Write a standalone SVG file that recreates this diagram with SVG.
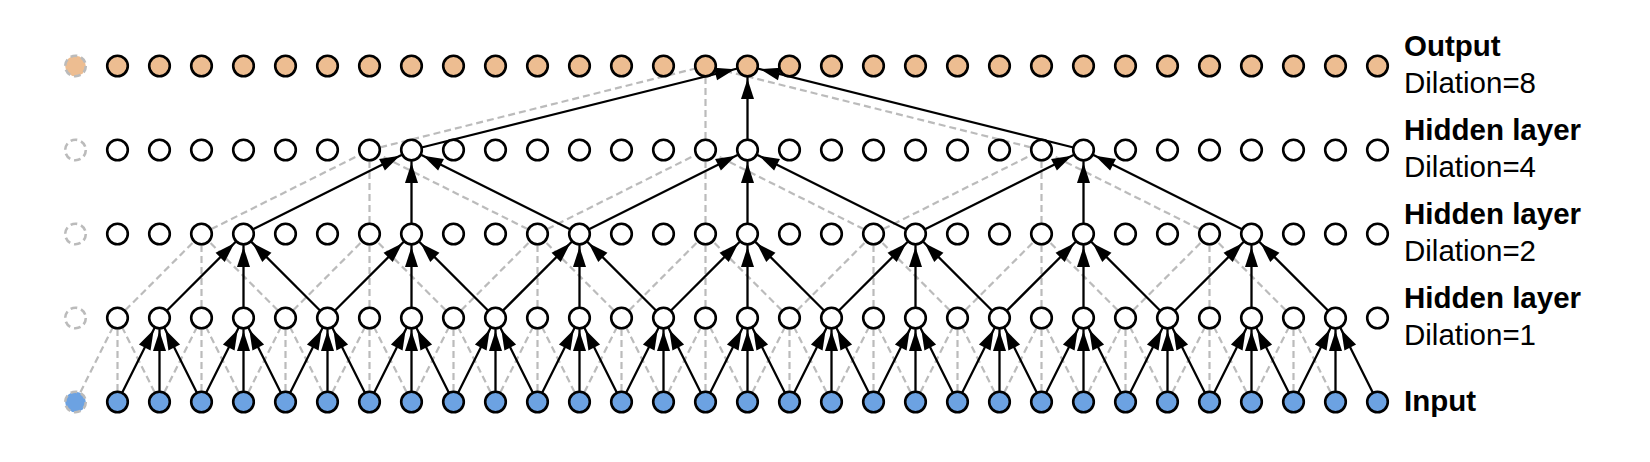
<svg xmlns="http://www.w3.org/2000/svg" width="1650" height="462" viewBox="0 0 1650 462">
<style>
.bg{fill:#ffffff}
.n circle{stroke:#000;stroke-width:2.6}
.out circle{fill:#EDBD91}
.hid circle{fill:#ffffff}
.inp circle{fill:#6CA2E2}
.ghost circle{stroke:#BBBBBB;stroke-width:2.6;stroke-dasharray:6.8 4}
.ghost.hid circle{fill:none}
.dash line{stroke:#BBBBBB;stroke-width:2.2;stroke-dasharray:7 4;fill:none}
.solid line{stroke:#000;stroke-width:2.3;marker-end:url(#ah)}
.lb{font-family:"Liberation Sans",Arial,Helvetica,sans-serif;font-size:29.5px;fill:#000}
.b{font-weight:bold}
</style>
<defs>
<marker id="ah" markerUnits="userSpaceOnUse" markerWidth="20" markerHeight="13" refX="33" refY="6.5" orient="auto" overflow="visible">
<path d="M0,0 L20,6.5 L0,13 z" fill="#000"/>
</marker>
</defs>
<rect class="bg" x="0" y="0" width="1650" height="462"/>
<g id="connectors">
<g class="dash">
<line x1="369.5" y1="150" x2="705.5" y2="66"/>
<line x1="705.5" y1="150" x2="705.5" y2="66"/>
<line x1="1041.5" y1="150" x2="705.5" y2="66"/>
<line x1="201.5" y1="234" x2="369.5" y2="150"/>
<line x1="369.5" y1="234" x2="369.5" y2="150"/>
<line x1="537.5" y1="234" x2="369.5" y2="150"/>
<line x1="537.5" y1="234" x2="705.5" y2="150"/>
<line x1="705.5" y1="234" x2="705.5" y2="150"/>
<line x1="873.5" y1="234" x2="705.5" y2="150"/>
<line x1="873.5" y1="234" x2="1041.5" y2="150"/>
<line x1="1041.5" y1="234" x2="1041.5" y2="150"/>
<line x1="1209.5" y1="234" x2="1041.5" y2="150"/>
<line x1="117.5" y1="318" x2="201.5" y2="234"/>
<line x1="201.5" y1="318" x2="201.5" y2="234"/>
<line x1="285.5" y1="318" x2="201.5" y2="234"/>
<line x1="285.5" y1="318" x2="369.5" y2="234"/>
<line x1="369.5" y1="318" x2="369.5" y2="234"/>
<line x1="453.5" y1="318" x2="369.5" y2="234"/>
<line x1="453.5" y1="318" x2="537.5" y2="234"/>
<line x1="537.5" y1="318" x2="537.5" y2="234"/>
<line x1="621.5" y1="318" x2="537.5" y2="234"/>
<line x1="621.5" y1="318" x2="705.5" y2="234"/>
<line x1="705.5" y1="318" x2="705.5" y2="234"/>
<line x1="789.5" y1="318" x2="705.5" y2="234"/>
<line x1="789.5" y1="318" x2="873.5" y2="234"/>
<line x1="873.5" y1="318" x2="873.5" y2="234"/>
<line x1="957.5" y1="318" x2="873.5" y2="234"/>
<line x1="957.5" y1="318" x2="1041.5" y2="234"/>
<line x1="1041.5" y1="318" x2="1041.5" y2="234"/>
<line x1="1125.5" y1="318" x2="1041.5" y2="234"/>
<line x1="1125.5" y1="318" x2="1209.5" y2="234"/>
<line x1="1209.5" y1="318" x2="1209.5" y2="234"/>
<line x1="1293.5" y1="318" x2="1209.5" y2="234"/>
<line x1="75.5" y1="402" x2="117.5" y2="318"/>
<line x1="117.5" y1="402" x2="117.5" y2="318"/>
<line x1="159.5" y1="402" x2="117.5" y2="318"/>
<line x1="159.5" y1="402" x2="201.5" y2="318"/>
<line x1="201.5" y1="402" x2="201.5" y2="318"/>
<line x1="243.5" y1="402" x2="201.5" y2="318"/>
<line x1="243.5" y1="402" x2="285.5" y2="318"/>
<line x1="285.5" y1="402" x2="285.5" y2="318"/>
<line x1="327.5" y1="402" x2="285.5" y2="318"/>
<line x1="327.5" y1="402" x2="369.5" y2="318"/>
<line x1="369.5" y1="402" x2="369.5" y2="318"/>
<line x1="411.5" y1="402" x2="369.5" y2="318"/>
<line x1="411.5" y1="402" x2="453.5" y2="318"/>
<line x1="453.5" y1="402" x2="453.5" y2="318"/>
<line x1="495.5" y1="402" x2="453.5" y2="318"/>
<line x1="495.5" y1="402" x2="537.5" y2="318"/>
<line x1="537.5" y1="402" x2="537.5" y2="318"/>
<line x1="579.5" y1="402" x2="537.5" y2="318"/>
<line x1="579.5" y1="402" x2="621.5" y2="318"/>
<line x1="621.5" y1="402" x2="621.5" y2="318"/>
<line x1="663.5" y1="402" x2="621.5" y2="318"/>
<line x1="663.5" y1="402" x2="705.5" y2="318"/>
<line x1="705.5" y1="402" x2="705.5" y2="318"/>
<line x1="747.5" y1="402" x2="705.5" y2="318"/>
<line x1="747.5" y1="402" x2="789.5" y2="318"/>
<line x1="789.5" y1="402" x2="789.5" y2="318"/>
<line x1="831.5" y1="402" x2="789.5" y2="318"/>
<line x1="831.5" y1="402" x2="873.5" y2="318"/>
<line x1="873.5" y1="402" x2="873.5" y2="318"/>
<line x1="915.5" y1="402" x2="873.5" y2="318"/>
<line x1="915.5" y1="402" x2="957.5" y2="318"/>
<line x1="957.5" y1="402" x2="957.5" y2="318"/>
<line x1="999.5" y1="402" x2="957.5" y2="318"/>
<line x1="999.5" y1="402" x2="1041.5" y2="318"/>
<line x1="1041.5" y1="402" x2="1041.5" y2="318"/>
<line x1="1083.5" y1="402" x2="1041.5" y2="318"/>
<line x1="1083.5" y1="402" x2="1125.5" y2="318"/>
<line x1="1125.5" y1="402" x2="1125.5" y2="318"/>
<line x1="1167.5" y1="402" x2="1125.5" y2="318"/>
<line x1="1167.5" y1="402" x2="1209.5" y2="318"/>
<line x1="1209.5" y1="402" x2="1209.5" y2="318"/>
<line x1="1251.5" y1="402" x2="1209.5" y2="318"/>
<line x1="1251.5" y1="402" x2="1293.5" y2="318"/>
<line x1="1293.5" y1="402" x2="1293.5" y2="318"/>
<line x1="1335.5" y1="402" x2="1293.5" y2="318"/>
</g>
<g class="solid">
<line x1="411.5" y1="150" x2="747.5" y2="66"/>
<line x1="747.5" y1="150" x2="747.5" y2="66"/>
<line x1="1083.5" y1="150" x2="747.5" y2="66"/>
<line x1="243.5" y1="234" x2="411.5" y2="150"/>
<line x1="411.5" y1="234" x2="411.5" y2="150"/>
<line x1="579.5" y1="234" x2="411.5" y2="150"/>
<line x1="579.5" y1="234" x2="747.5" y2="150"/>
<line x1="747.5" y1="234" x2="747.5" y2="150"/>
<line x1="915.5" y1="234" x2="747.5" y2="150"/>
<line x1="915.5" y1="234" x2="1083.5" y2="150"/>
<line x1="1083.5" y1="234" x2="1083.5" y2="150"/>
<line x1="1251.5" y1="234" x2="1083.5" y2="150"/>
<line x1="159.5" y1="318" x2="243.5" y2="234"/>
<line x1="243.5" y1="318" x2="243.5" y2="234"/>
<line x1="327.5" y1="318" x2="243.5" y2="234"/>
<line x1="327.5" y1="318" x2="411.5" y2="234"/>
<line x1="411.5" y1="318" x2="411.5" y2="234"/>
<line x1="495.5" y1="318" x2="411.5" y2="234"/>
<line x1="495.5" y1="318" x2="579.5" y2="234"/>
<line x1="579.5" y1="318" x2="579.5" y2="234"/>
<line x1="663.5" y1="318" x2="579.5" y2="234"/>
<line x1="663.5" y1="318" x2="747.5" y2="234"/>
<line x1="747.5" y1="318" x2="747.5" y2="234"/>
<line x1="831.5" y1="318" x2="747.5" y2="234"/>
<line x1="831.5" y1="318" x2="915.5" y2="234"/>
<line x1="915.5" y1="318" x2="915.5" y2="234"/>
<line x1="999.5" y1="318" x2="915.5" y2="234"/>
<line x1="999.5" y1="318" x2="1083.5" y2="234"/>
<line x1="1083.5" y1="318" x2="1083.5" y2="234"/>
<line x1="1167.5" y1="318" x2="1083.5" y2="234"/>
<line x1="1167.5" y1="318" x2="1251.5" y2="234"/>
<line x1="1251.5" y1="318" x2="1251.5" y2="234"/>
<line x1="1335.5" y1="318" x2="1251.5" y2="234"/>
<line x1="117.5" y1="402" x2="159.5" y2="318"/>
<line x1="159.5" y1="402" x2="159.5" y2="318"/>
<line x1="201.5" y1="402" x2="159.5" y2="318"/>
<line x1="201.5" y1="402" x2="243.5" y2="318"/>
<line x1="243.5" y1="402" x2="243.5" y2="318"/>
<line x1="285.5" y1="402" x2="243.5" y2="318"/>
<line x1="285.5" y1="402" x2="327.5" y2="318"/>
<line x1="327.5" y1="402" x2="327.5" y2="318"/>
<line x1="369.5" y1="402" x2="327.5" y2="318"/>
<line x1="369.5" y1="402" x2="411.5" y2="318"/>
<line x1="411.5" y1="402" x2="411.5" y2="318"/>
<line x1="453.5" y1="402" x2="411.5" y2="318"/>
<line x1="453.5" y1="402" x2="495.5" y2="318"/>
<line x1="495.5" y1="402" x2="495.5" y2="318"/>
<line x1="537.5" y1="402" x2="495.5" y2="318"/>
<line x1="537.5" y1="402" x2="579.5" y2="318"/>
<line x1="579.5" y1="402" x2="579.5" y2="318"/>
<line x1="621.5" y1="402" x2="579.5" y2="318"/>
<line x1="621.5" y1="402" x2="663.5" y2="318"/>
<line x1="663.5" y1="402" x2="663.5" y2="318"/>
<line x1="705.5" y1="402" x2="663.5" y2="318"/>
<line x1="705.5" y1="402" x2="747.5" y2="318"/>
<line x1="747.5" y1="402" x2="747.5" y2="318"/>
<line x1="789.5" y1="402" x2="747.5" y2="318"/>
<line x1="789.5" y1="402" x2="831.5" y2="318"/>
<line x1="831.5" y1="402" x2="831.5" y2="318"/>
<line x1="873.5" y1="402" x2="831.5" y2="318"/>
<line x1="873.5" y1="402" x2="915.5" y2="318"/>
<line x1="915.5" y1="402" x2="915.5" y2="318"/>
<line x1="957.5" y1="402" x2="915.5" y2="318"/>
<line x1="957.5" y1="402" x2="999.5" y2="318"/>
<line x1="999.5" y1="402" x2="999.5" y2="318"/>
<line x1="1041.5" y1="402" x2="999.5" y2="318"/>
<line x1="1041.5" y1="402" x2="1083.5" y2="318"/>
<line x1="1083.5" y1="402" x2="1083.5" y2="318"/>
<line x1="1125.5" y1="402" x2="1083.5" y2="318"/>
<line x1="1125.5" y1="402" x2="1167.5" y2="318"/>
<line x1="1167.5" y1="402" x2="1167.5" y2="318"/>
<line x1="1209.5" y1="402" x2="1167.5" y2="318"/>
<line x1="1209.5" y1="402" x2="1251.5" y2="318"/>
<line x1="1251.5" y1="402" x2="1251.5" y2="318"/>
<line x1="1293.5" y1="402" x2="1251.5" y2="318"/>
<line x1="1293.5" y1="402" x2="1335.5" y2="318"/>
<line x1="1335.5" y1="402" x2="1335.5" y2="318"/>
<line x1="1377.5" y1="402" x2="1335.5" y2="318"/>
</g>
</g>
<g id="output-layer">
<g id="out-ghost" class="n out ghost"><circle cx="75.5" cy="66" r="10.3"/></g>
<g id="out-0" class="n out"><circle cx="117.5" cy="66" r="10.3"/></g>
<g id="out-1" class="n out"><circle cx="159.5" cy="66" r="10.3"/></g>
<g id="out-2" class="n out"><circle cx="201.5" cy="66" r="10.3"/></g>
<g id="out-3" class="n out"><circle cx="243.5" cy="66" r="10.3"/></g>
<g id="out-4" class="n out"><circle cx="285.5" cy="66" r="10.3"/></g>
<g id="out-5" class="n out"><circle cx="327.5" cy="66" r="10.3"/></g>
<g id="out-6" class="n out"><circle cx="369.5" cy="66" r="10.3"/></g>
<g id="out-7" class="n out"><circle cx="411.5" cy="66" r="10.3"/></g>
<g id="out-8" class="n out"><circle cx="453.5" cy="66" r="10.3"/></g>
<g id="out-9" class="n out"><circle cx="495.5" cy="66" r="10.3"/></g>
<g id="out-10" class="n out"><circle cx="537.5" cy="66" r="10.3"/></g>
<g id="out-11" class="n out"><circle cx="579.5" cy="66" r="10.3"/></g>
<g id="out-12" class="n out"><circle cx="621.5" cy="66" r="10.3"/></g>
<g id="out-13" class="n out"><circle cx="663.5" cy="66" r="10.3"/></g>
<g id="out-14" class="n out"><circle cx="705.5" cy="66" r="10.3"/></g>
<g id="out-15" class="n out"><circle cx="747.5" cy="66" r="10.3"/></g>
<g id="out-16" class="n out"><circle cx="789.5" cy="66" r="10.3"/></g>
<g id="out-17" class="n out"><circle cx="831.5" cy="66" r="10.3"/></g>
<g id="out-18" class="n out"><circle cx="873.5" cy="66" r="10.3"/></g>
<g id="out-19" class="n out"><circle cx="915.5" cy="66" r="10.3"/></g>
<g id="out-20" class="n out"><circle cx="957.5" cy="66" r="10.3"/></g>
<g id="out-21" class="n out"><circle cx="999.5" cy="66" r="10.3"/></g>
<g id="out-22" class="n out"><circle cx="1041.5" cy="66" r="10.3"/></g>
<g id="out-23" class="n out"><circle cx="1083.5" cy="66" r="10.3"/></g>
<g id="out-24" class="n out"><circle cx="1125.5" cy="66" r="10.3"/></g>
<g id="out-25" class="n out"><circle cx="1167.5" cy="66" r="10.3"/></g>
<g id="out-26" class="n out"><circle cx="1209.5" cy="66" r="10.3"/></g>
<g id="out-27" class="n out"><circle cx="1251.5" cy="66" r="10.3"/></g>
<g id="out-28" class="n out"><circle cx="1293.5" cy="66" r="10.3"/></g>
<g id="out-29" class="n out"><circle cx="1335.5" cy="66" r="10.3"/></g>
<g id="out-30" class="n out"><circle cx="1377.5" cy="66" r="10.3"/></g>
</g>
<g id="hidden4-layer">
<g id="h4-ghost" class="n hid ghost"><circle cx="75.5" cy="150" r="10.3"/></g>
<g id="h4-0" class="n hid"><circle cx="117.5" cy="150" r="10.3"/></g>
<g id="h4-1" class="n hid"><circle cx="159.5" cy="150" r="10.3"/></g>
<g id="h4-2" class="n hid"><circle cx="201.5" cy="150" r="10.3"/></g>
<g id="h4-3" class="n hid"><circle cx="243.5" cy="150" r="10.3"/></g>
<g id="h4-4" class="n hid"><circle cx="285.5" cy="150" r="10.3"/></g>
<g id="h4-5" class="n hid"><circle cx="327.5" cy="150" r="10.3"/></g>
<g id="h4-6" class="n hid"><circle cx="369.5" cy="150" r="10.3"/></g>
<g id="h4-7" class="n hid"><circle cx="411.5" cy="150" r="10.3"/></g>
<g id="h4-8" class="n hid"><circle cx="453.5" cy="150" r="10.3"/></g>
<g id="h4-9" class="n hid"><circle cx="495.5" cy="150" r="10.3"/></g>
<g id="h4-10" class="n hid"><circle cx="537.5" cy="150" r="10.3"/></g>
<g id="h4-11" class="n hid"><circle cx="579.5" cy="150" r="10.3"/></g>
<g id="h4-12" class="n hid"><circle cx="621.5" cy="150" r="10.3"/></g>
<g id="h4-13" class="n hid"><circle cx="663.5" cy="150" r="10.3"/></g>
<g id="h4-14" class="n hid"><circle cx="705.5" cy="150" r="10.3"/></g>
<g id="h4-15" class="n hid"><circle cx="747.5" cy="150" r="10.3"/></g>
<g id="h4-16" class="n hid"><circle cx="789.5" cy="150" r="10.3"/></g>
<g id="h4-17" class="n hid"><circle cx="831.5" cy="150" r="10.3"/></g>
<g id="h4-18" class="n hid"><circle cx="873.5" cy="150" r="10.3"/></g>
<g id="h4-19" class="n hid"><circle cx="915.5" cy="150" r="10.3"/></g>
<g id="h4-20" class="n hid"><circle cx="957.5" cy="150" r="10.3"/></g>
<g id="h4-21" class="n hid"><circle cx="999.5" cy="150" r="10.3"/></g>
<g id="h4-22" class="n hid"><circle cx="1041.5" cy="150" r="10.3"/></g>
<g id="h4-23" class="n hid"><circle cx="1083.5" cy="150" r="10.3"/></g>
<g id="h4-24" class="n hid"><circle cx="1125.5" cy="150" r="10.3"/></g>
<g id="h4-25" class="n hid"><circle cx="1167.5" cy="150" r="10.3"/></g>
<g id="h4-26" class="n hid"><circle cx="1209.5" cy="150" r="10.3"/></g>
<g id="h4-27" class="n hid"><circle cx="1251.5" cy="150" r="10.3"/></g>
<g id="h4-28" class="n hid"><circle cx="1293.5" cy="150" r="10.3"/></g>
<g id="h4-29" class="n hid"><circle cx="1335.5" cy="150" r="10.3"/></g>
<g id="h4-30" class="n hid"><circle cx="1377.5" cy="150" r="10.3"/></g>
</g>
<g id="hidden2-layer">
<g id="h2-ghost" class="n hid ghost"><circle cx="75.5" cy="234" r="10.3"/></g>
<g id="h2-0" class="n hid"><circle cx="117.5" cy="234" r="10.3"/></g>
<g id="h2-1" class="n hid"><circle cx="159.5" cy="234" r="10.3"/></g>
<g id="h2-2" class="n hid"><circle cx="201.5" cy="234" r="10.3"/></g>
<g id="h2-3" class="n hid"><circle cx="243.5" cy="234" r="10.3"/></g>
<g id="h2-4" class="n hid"><circle cx="285.5" cy="234" r="10.3"/></g>
<g id="h2-5" class="n hid"><circle cx="327.5" cy="234" r="10.3"/></g>
<g id="h2-6" class="n hid"><circle cx="369.5" cy="234" r="10.3"/></g>
<g id="h2-7" class="n hid"><circle cx="411.5" cy="234" r="10.3"/></g>
<g id="h2-8" class="n hid"><circle cx="453.5" cy="234" r="10.3"/></g>
<g id="h2-9" class="n hid"><circle cx="495.5" cy="234" r="10.3"/></g>
<g id="h2-10" class="n hid"><circle cx="537.5" cy="234" r="10.3"/></g>
<g id="h2-11" class="n hid"><circle cx="579.5" cy="234" r="10.3"/></g>
<g id="h2-12" class="n hid"><circle cx="621.5" cy="234" r="10.3"/></g>
<g id="h2-13" class="n hid"><circle cx="663.5" cy="234" r="10.3"/></g>
<g id="h2-14" class="n hid"><circle cx="705.5" cy="234" r="10.3"/></g>
<g id="h2-15" class="n hid"><circle cx="747.5" cy="234" r="10.3"/></g>
<g id="h2-16" class="n hid"><circle cx="789.5" cy="234" r="10.3"/></g>
<g id="h2-17" class="n hid"><circle cx="831.5" cy="234" r="10.3"/></g>
<g id="h2-18" class="n hid"><circle cx="873.5" cy="234" r="10.3"/></g>
<g id="h2-19" class="n hid"><circle cx="915.5" cy="234" r="10.3"/></g>
<g id="h2-20" class="n hid"><circle cx="957.5" cy="234" r="10.3"/></g>
<g id="h2-21" class="n hid"><circle cx="999.5" cy="234" r="10.3"/></g>
<g id="h2-22" class="n hid"><circle cx="1041.5" cy="234" r="10.3"/></g>
<g id="h2-23" class="n hid"><circle cx="1083.5" cy="234" r="10.3"/></g>
<g id="h2-24" class="n hid"><circle cx="1125.5" cy="234" r="10.3"/></g>
<g id="h2-25" class="n hid"><circle cx="1167.5" cy="234" r="10.3"/></g>
<g id="h2-26" class="n hid"><circle cx="1209.5" cy="234" r="10.3"/></g>
<g id="h2-27" class="n hid"><circle cx="1251.5" cy="234" r="10.3"/></g>
<g id="h2-28" class="n hid"><circle cx="1293.5" cy="234" r="10.3"/></g>
<g id="h2-29" class="n hid"><circle cx="1335.5" cy="234" r="10.3"/></g>
<g id="h2-30" class="n hid"><circle cx="1377.5" cy="234" r="10.3"/></g>
</g>
<g id="hidden1-layer">
<g id="h1-ghost" class="n hid ghost"><circle cx="75.5" cy="318" r="10.3"/></g>
<g id="h1-0" class="n hid"><circle cx="117.5" cy="318" r="10.3"/></g>
<g id="h1-1" class="n hid"><circle cx="159.5" cy="318" r="10.3"/></g>
<g id="h1-2" class="n hid"><circle cx="201.5" cy="318" r="10.3"/></g>
<g id="h1-3" class="n hid"><circle cx="243.5" cy="318" r="10.3"/></g>
<g id="h1-4" class="n hid"><circle cx="285.5" cy="318" r="10.3"/></g>
<g id="h1-5" class="n hid"><circle cx="327.5" cy="318" r="10.3"/></g>
<g id="h1-6" class="n hid"><circle cx="369.5" cy="318" r="10.3"/></g>
<g id="h1-7" class="n hid"><circle cx="411.5" cy="318" r="10.3"/></g>
<g id="h1-8" class="n hid"><circle cx="453.5" cy="318" r="10.3"/></g>
<g id="h1-9" class="n hid"><circle cx="495.5" cy="318" r="10.3"/></g>
<g id="h1-10" class="n hid"><circle cx="537.5" cy="318" r="10.3"/></g>
<g id="h1-11" class="n hid"><circle cx="579.5" cy="318" r="10.3"/></g>
<g id="h1-12" class="n hid"><circle cx="621.5" cy="318" r="10.3"/></g>
<g id="h1-13" class="n hid"><circle cx="663.5" cy="318" r="10.3"/></g>
<g id="h1-14" class="n hid"><circle cx="705.5" cy="318" r="10.3"/></g>
<g id="h1-15" class="n hid"><circle cx="747.5" cy="318" r="10.3"/></g>
<g id="h1-16" class="n hid"><circle cx="789.5" cy="318" r="10.3"/></g>
<g id="h1-17" class="n hid"><circle cx="831.5" cy="318" r="10.3"/></g>
<g id="h1-18" class="n hid"><circle cx="873.5" cy="318" r="10.3"/></g>
<g id="h1-19" class="n hid"><circle cx="915.5" cy="318" r="10.3"/></g>
<g id="h1-20" class="n hid"><circle cx="957.5" cy="318" r="10.3"/></g>
<g id="h1-21" class="n hid"><circle cx="999.5" cy="318" r="10.3"/></g>
<g id="h1-22" class="n hid"><circle cx="1041.5" cy="318" r="10.3"/></g>
<g id="h1-23" class="n hid"><circle cx="1083.5" cy="318" r="10.3"/></g>
<g id="h1-24" class="n hid"><circle cx="1125.5" cy="318" r="10.3"/></g>
<g id="h1-25" class="n hid"><circle cx="1167.5" cy="318" r="10.3"/></g>
<g id="h1-26" class="n hid"><circle cx="1209.5" cy="318" r="10.3"/></g>
<g id="h1-27" class="n hid"><circle cx="1251.5" cy="318" r="10.3"/></g>
<g id="h1-28" class="n hid"><circle cx="1293.5" cy="318" r="10.3"/></g>
<g id="h1-29" class="n hid"><circle cx="1335.5" cy="318" r="10.3"/></g>
<g id="h1-30" class="n hid"><circle cx="1377.5" cy="318" r="10.3"/></g>
</g>
<g id="input-layer">
<g id="in-ghost" class="n inp ghost"><circle cx="75.5" cy="402" r="10.3"/></g>
<g id="in-0" class="n inp"><circle cx="117.5" cy="402" r="10.3"/></g>
<g id="in-1" class="n inp"><circle cx="159.5" cy="402" r="10.3"/></g>
<g id="in-2" class="n inp"><circle cx="201.5" cy="402" r="10.3"/></g>
<g id="in-3" class="n inp"><circle cx="243.5" cy="402" r="10.3"/></g>
<g id="in-4" class="n inp"><circle cx="285.5" cy="402" r="10.3"/></g>
<g id="in-5" class="n inp"><circle cx="327.5" cy="402" r="10.3"/></g>
<g id="in-6" class="n inp"><circle cx="369.5" cy="402" r="10.3"/></g>
<g id="in-7" class="n inp"><circle cx="411.5" cy="402" r="10.3"/></g>
<g id="in-8" class="n inp"><circle cx="453.5" cy="402" r="10.3"/></g>
<g id="in-9" class="n inp"><circle cx="495.5" cy="402" r="10.3"/></g>
<g id="in-10" class="n inp"><circle cx="537.5" cy="402" r="10.3"/></g>
<g id="in-11" class="n inp"><circle cx="579.5" cy="402" r="10.3"/></g>
<g id="in-12" class="n inp"><circle cx="621.5" cy="402" r="10.3"/></g>
<g id="in-13" class="n inp"><circle cx="663.5" cy="402" r="10.3"/></g>
<g id="in-14" class="n inp"><circle cx="705.5" cy="402" r="10.3"/></g>
<g id="in-15" class="n inp"><circle cx="747.5" cy="402" r="10.3"/></g>
<g id="in-16" class="n inp"><circle cx="789.5" cy="402" r="10.3"/></g>
<g id="in-17" class="n inp"><circle cx="831.5" cy="402" r="10.3"/></g>
<g id="in-18" class="n inp"><circle cx="873.5" cy="402" r="10.3"/></g>
<g id="in-19" class="n inp"><circle cx="915.5" cy="402" r="10.3"/></g>
<g id="in-20" class="n inp"><circle cx="957.5" cy="402" r="10.3"/></g>
<g id="in-21" class="n inp"><circle cx="999.5" cy="402" r="10.3"/></g>
<g id="in-22" class="n inp"><circle cx="1041.5" cy="402" r="10.3"/></g>
<g id="in-23" class="n inp"><circle cx="1083.5" cy="402" r="10.3"/></g>
<g id="in-24" class="n inp"><circle cx="1125.5" cy="402" r="10.3"/></g>
<g id="in-25" class="n inp"><circle cx="1167.5" cy="402" r="10.3"/></g>
<g id="in-26" class="n inp"><circle cx="1209.5" cy="402" r="10.3"/></g>
<g id="in-27" class="n inp"><circle cx="1251.5" cy="402" r="10.3"/></g>
<g id="in-28" class="n inp"><circle cx="1293.5" cy="402" r="10.3"/></g>
<g id="in-29" class="n inp"><circle cx="1335.5" cy="402" r="10.3"/></g>
<g id="in-30" class="n inp"><circle cx="1377.5" cy="402" r="10.3"/></g>
</g>
<g id="labels">
<text class="lb b" x="1404" y="56">Output</text>
<text class="lb" x="1404" y="93">Dilation=8</text>
<text class="lb b" x="1404" y="140">Hidden layer</text>
<text class="lb" x="1404" y="177">Dilation=4</text>
<text class="lb b" x="1404" y="223.5">Hidden layer</text>
<text class="lb" x="1404" y="260.5">Dilation=2</text>
<text class="lb b" x="1404" y="307.5">Hidden layer</text>
<text class="lb" x="1404" y="344.5">Dilation=1</text>
<text class="lb b" x="1404" y="411">Input</text>
</g>
</svg>
